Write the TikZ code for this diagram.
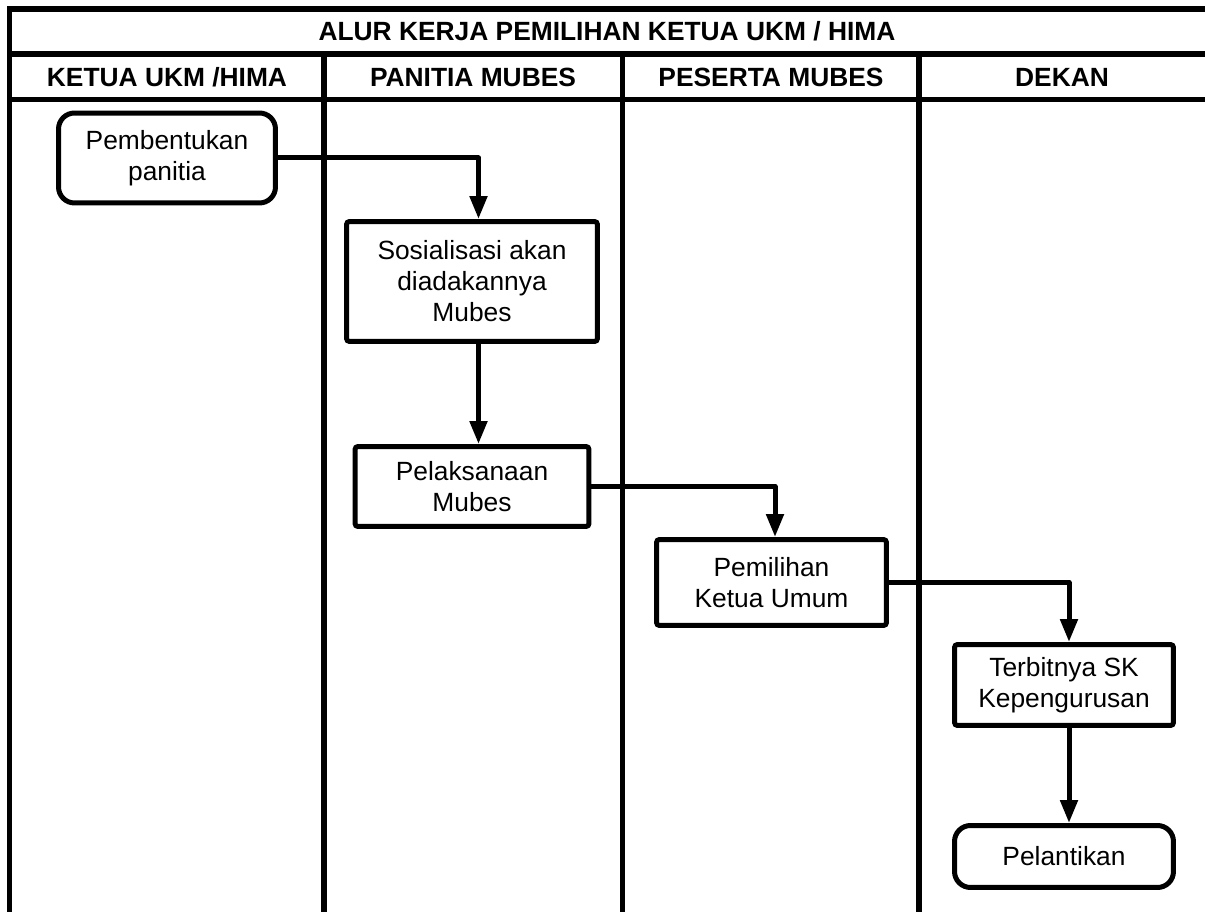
\documentclass[tikz,border=0pt]{standalone}
\usepackage{fontspec}
\setmainfont{Liberation Sans}
\usetikzlibrary{arrows.meta, positioning}

\begin{document}
\begin{tikzpicture}[x=0.02cm, y=0.02cm]
\tikzstyle{every node}+=[inner sep=0pt, font=\fontsize{15}{17.6}\selectfont, align=center]
\tikzstyle{lane}=[line width=0.11cm]
\tikzstyle{head}=[font=\fontsize{15}{17.6}\selectfont\bfseries]
\tikzstyle{act}=[draw, line width=0.1cm, rounded corners=0.06cm]
\tikzstyle{term}=[draw, line width=0.1cm, rounded corners=0.32cm]
\tikzstyle{flow}=[line width=0.1cm, line join=round, -{Triangle[length=0.46cm,width=0.34cm]}]
\useasboundingbox (0,0) rectangle (1205,-912);
\draw [lane] (1212,-9) -- (9.7,-9) -- (9.7,-920);
\draw [lane] (9.7,-54) -- (1212,-54);
\draw [lane] (9.7,-99.5) -- (1212,-99.5);
\draw [lane] (324,-54) -- (324,-920);
\draw [lane] (622.5,-54) -- (622.5,-920);
\draw [lane] (919,-54) -- (919,-920);
\node [head] (title) at (607,-31) {ALUR KERJA PEMILIHAN KETUA UKM / HIMA};
\node [head] (h1) at (167,-77) {KETUA UKM /HIMA};
\node [head] (h2) at (473,-77) {PANITIA MUBES};
\node [head] (h3) at (771,-77) {PESERTA MUBES};
\node [head] (h4) at (1062,-77) {DEKAN};
\node [term, minimum width=4.34cm, minimum height=1.8cm] (pemb) at (167,-158) {Pembentukan\\panitia};
\node [act, minimum width=5.02cm, minimum height=2.4cm] (sos) at (472,-281.5) {Sosialisasi akan\\diadakannya\\Mubes};
\node [act, minimum width=4.68cm, minimum height=1.6cm] (pel) at (472,-486.5) {Pelaksanaan\\Mubes};
\node [act, minimum width=4.6cm, minimum height=1.72cm] (pem) at (771.5,-582.5) {Pemilihan\\Ketua Umum};
\node [act, minimum width=4.38cm, minimum height=1.62cm] (sk) at (1064,-685) {Terbitnya SK\\Kepengurusan};
\node [term, minimum width=4.38cm, minimum height=1.24cm] (lantik) at (1064,-856.5) {Pelantikan};
\draw [flow] (pemb.east) -| ([xshift=0.13cm]sos.north);
\draw [flow] ([xshift=0.13cm]sos.south) -- ([xshift=0.13cm]pel.north);
\draw [flow] (pel.east) -| ([xshift=0.07cm]pem.north);
\draw [flow] (pem.east) -| ([xshift=0.1cm]sk.north);
\draw [flow] ([xshift=0.1cm]sk.south) -- ([xshift=0.1cm]lantik.north);
\end{tikzpicture}
\end{document}
